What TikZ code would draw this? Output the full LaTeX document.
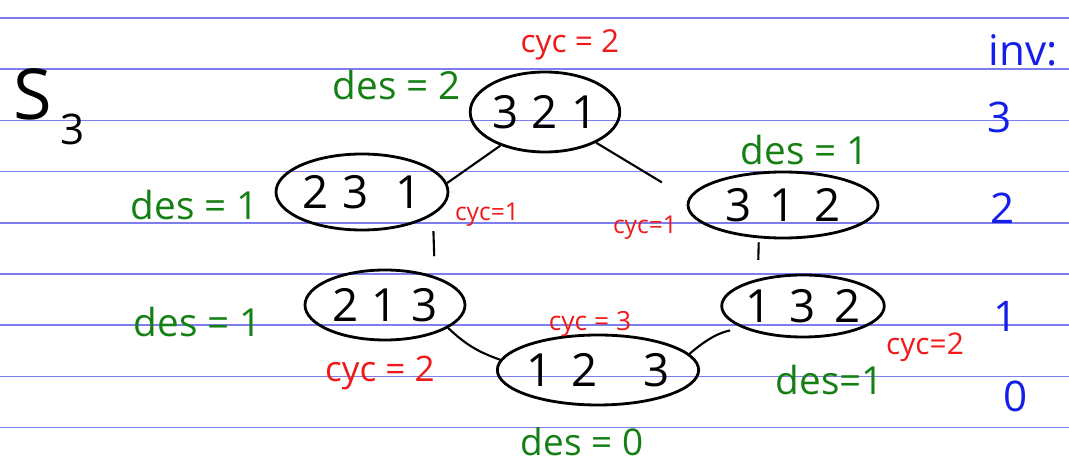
\documentclass[tikz,border=0pt]{standalone}
\usepackage{fontspec}
\setmainfont{Open Sans}
\usetikzlibrary{shapes.geometric}
\definecolor{rule}{RGB}{125,125,238}
\definecolor{desg}{RGB}{20,128,20}
\definecolor{cycr}{RGB}{240,25,25}
\definecolor{invb}{RGB}{20,30,235}
\newcommand{\fsz}[1]{\fontsize{#1}{#1}\selectfont}

\begin{document}
\begin{tikzpicture}[
  perm/.style={draw,ellipse,line width=1.6pt,inner sep=0pt,font=\fsz{26}},
  link/.style={line width=1.2pt},
  rl/.style={rule,line width=1pt},
  des/.style={desg,font=\fsz{22}},
  cyc/.style={cycr,font=\fsz{16}},
  inv/.style={invb,font=\fsz{24}}]
\useasboundingbox (0,0) rectangle (21.38,-9.30);
\clip (0,0) rectangle (21.38,-9.30);
% ruled paper
\foreach \k in {0,...,8}
  \draw[rl] (0,-0.36-1.024*\k) -- (21.38,-0.36-1.024*\k);
% title
\node[anchor=base west,inner sep=0pt,font=\fsz{40}] (title) at (0.26,-2.40)
  {S\hspace{0.12em}\raisebox{-14pt}{\fsz{24}3}};
% permutations
\node[perm,minimum width=2.96cm,minimum height=1.6cm] (p321) at (10.90,-2.24) {3\hspace{0.3em}2\hspace{0.3em}1};
\node[perm,minimum width=3.44cm,minimum height=1.52cm] (p231) at (7.24,-3.84) {2\hspace{0.3em}3\hspace{0.6em}1};
\node[perm,minimum width=3.8cm,minimum height=1.32cm] (p312) at (15.66,-4.10) {3\hspace{0.4em}1\hspace{0.4em}2};
\node[perm,minimum width=3.2cm,minimum height=1.4cm] (p213) at (7.70,-6.10) {2\hspace{0.3em}1\hspace{0.3em}3};
\node[perm,minimum width=3.24cm,minimum height=1.24cm] (p132) at (16.06,-6.12) {1\hspace{0.4em}3\hspace{0.4em}2};
\node[perm,minimum width=3.92cm,minimum height=1.4cm] (p123) at (11.96,-7.40) {1\hspace{0.4em}2\hspace{1em}3};
% covering relations
\draw[link] (p321.217) -- (p231.6);
\draw[link,shorten >=0.62cm] (p321.329) -- (p312.176);
\draw[link,shorten <=0.32cm,shorten >=0.40cm] (p231.342) -- (p213.30);
\draw[link,shorten <=0.08cm,shorten >=0.38cm] (p312.234) -- (p132.149);
\draw[link] (p213.340) to[bend right=12] (p123.174);
\draw[link,shorten <=0.25cm] (p132.200) to[bend right=15] (p123.10);
% descents and cycles
\node[cyc,font=\fsz{18}] (c321) at (11.40,-0.90) {cyc = 2};
\node[des] (d321) at (7.94,-1.70) {des = 2};
\node[des] (d231) at (3.90,-4.10) {des = 1};
\node[cyc,font=\fsz{14}] (c231) at (9.74,-4.30) {cyc=1};
\node[des] (d312) at (16.10,-3.00) {des = 1};
\node[cyc,font=\fsz{14}] (c312) at (12.90,-4.56) {cyc=1};
\node[des] (d213) at (3.96,-6.44) {des = 1};
\node[cyc,font=\fsz{20}] (c213) at (7.60,-7.46) {cyc = 2};
\node[cyc,font=\fsz{15}] (c123) at (11.80,-6.48) {cyc = 3};
\node[des,font=\fsz{21}] (d123) at (11.64,-8.84) {des = 0};
\node[cyc,font=\fsz{17}] (c132) at (18.50,-6.94) {cyc=2};
\node[des] (d132) at (16.60,-7.60) {des=1};
% inversions
\node[inv] (inv) at (20.46,-1.00) {inv:};
\node[inv] (i3) at (20.00,-2.34) {3};
\node[inv] (i2) at (20.06,-4.16) {2};
\node[inv] (i1) at (20.12,-6.32) {1};
\node[inv] (i0) at (20.32,-7.92) {0};
\end{tikzpicture}
\end{document}
